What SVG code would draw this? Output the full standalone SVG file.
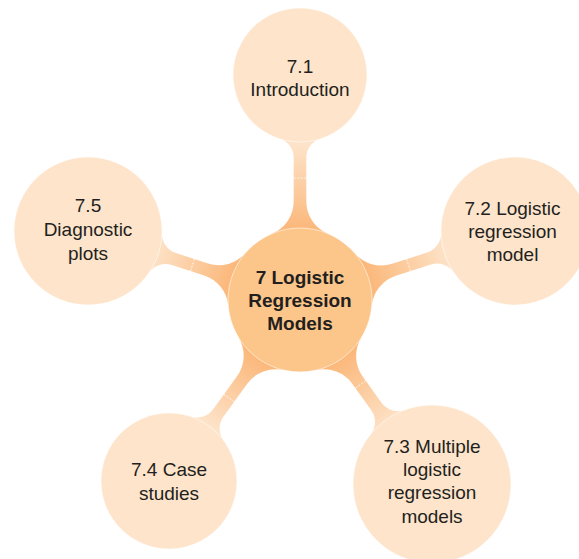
<svg xmlns="http://www.w3.org/2000/svg" width="579" height="559" viewBox="0 0 579 559">
<defs>
<linearGradient id="bridge" gradientUnits="userSpaceOnUse" x1="72" y1="0" x2="155" y2="0">
<stop offset="0" stop-color="#fbb87b"/>
<stop offset="1" stop-color="#fde3c9"/>
</linearGradient>
</defs>
<style>
.link{fill:url(#bridge);stroke:none}
.cut{stroke:#ffffff;stroke-width:0.8;stroke-dasharray:2 1.5;fill:none;opacity:0.9}
.outer{fill:#fde4cb;stroke:#ffffff;stroke-width:0.8;stroke-opacity:0.7}
.hub{fill:#fcc68a;stroke:#ffffff;stroke-width:0.8;stroke-opacity:0.7}
.t{font-family:"Liberation Sans",Arial,Helvetica,sans-serif;font-size:19px;fill:#231f20;text-anchor:middle}
.tb{font-family:"Liberation Sans",Arial,Helvetica,sans-serif;font-size:19px;font-weight:bold;fill:#231f20;text-anchor:middle}
</style>
<rect width="579" height="559" fill="#ffffff"/>
<g id="connectors">
<g transform="translate(300,300) rotate(-90)">
<path class="link" d="M66.42,-27.79 A35,35 0 0 0 98.71,-6.3 L142.07,-6.3 A20,20 0 0 0 161.13,-20.25 L161.13,20.25 A20,20 0 0 0 142.07,6.3 L98.71,6.3 A35,35 0 0 0 66.42,27.79 Z"/>
<line class="cut" x1="122" y1="-6.3" x2="122" y2="6.3"/>
</g>
<g transform="translate(300,300) rotate(-17.79)">
<path class="link" d="M66.42,-27.79 A35,35 0 0 0 98.71,-6.3 L135.55,-6.3 A20,20 0 0 0 154.75,-20.7 L154.75,20.7 A20,20 0 0 0 135.55,6.3 L98.71,6.3 A35,35 0 0 0 66.42,27.79 Z"/>
<line class="cut" x1="114" y1="-6.3" x2="114" y2="6.3"/>
</g>
<g transform="translate(300,300) rotate(54.35)">
<path class="link" d="M66.42,-27.79 A35,35 0 0 0 98.71,-6.3 L131.06,-6.3 A20,20 0 0 0 150.34,-20.99 L150.34,20.99 A20,20 0 0 0 131.06,6.3 L98.71,6.3 A35,35 0 0 0 66.42,27.79 Z"/>
<line class="cut" x1="104" y1="-6.3" x2="104" y2="6.3"/>
</g>
<g transform="translate(300,300) rotate(125.89)">
<path class="link" d="M66.42,-27.79 A35,35 0 0 0 98.71,-6.3 L139.42,-6.3 A20,20 0 0 0 158.51,-20.32 L158.51,20.32 A20,20 0 0 0 139.42,6.3 L98.71,6.3 A35,35 0 0 0 66.42,27.79 Z"/>
<line class="cut" x1="121" y1="-6.3" x2="121" y2="6.3"/>
</g>
<g transform="translate(300,300) rotate(-161.97)">
<path class="link" d="M66.42,-27.79 A35,35 0 0 0 98.71,-6.3 L132.65,-6.3 A20,20 0 0 0 151.85,-20.7 L151.85,20.7 A20,20 0 0 0 132.65,6.3 L98.71,6.3 A35,35 0 0 0 66.42,27.79 Z"/>
<line class="cut" x1="113" y1="-6.3" x2="113" y2="6.3"/>
</g>
</g>
<g id="node-7-1">
<circle class="outer" cx="300" cy="75" r="67"/>
<text class="t" x="300" y="73">7.1</text>
<text class="t" x="300" y="96">Introduction</text>
</g>
<g id="node-7-2">
<circle class="outer" cx="515" cy="231" r="74"/>
<text class="t" x="512.5" y="215">7.2 Logistic</text>
<text class="t" x="512.5" y="238">regression</text>
<text class="t" x="512.5" y="261">model</text>
</g>
<g id="node-7-3">
<circle class="outer" cx="432" cy="484" r="79"/>
<text class="t" x="432" y="453">7.3 Multiple</text>
<text class="t" x="432" y="476">logistic</text>
<text class="t" x="432" y="499">regression</text>
<text class="t" x="432" y="523">models</text>
</g>
<g id="node-7-4">
<circle class="outer" cx="169" cy="481" r="68"/>
<text class="t" x="169" y="476">7.4 Case</text>
<text class="t" x="169" y="500">studies</text>
</g>
<g id="node-7-5">
<circle class="outer" cx="88" cy="231" r="74"/>
<text class="t" x="88" y="212">7.5</text>
<text class="t" x="88" y="236">Diagnostic</text>
<text class="t" x="88" y="260">plots</text>
</g>
<g id="node-7">
<circle class="hub" cx="300" cy="300" r="72"/>
<text class="tb" x="300" y="284">7 Logistic</text>
<text class="tb" x="300" y="307">Regression</text>
<text class="tb" x="300" y="330">Models</text>
</g>
</svg>
